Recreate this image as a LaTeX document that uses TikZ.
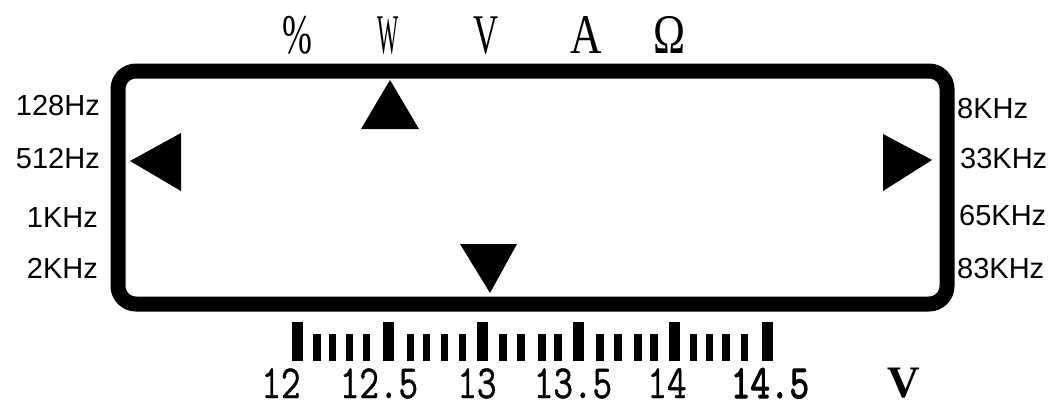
\documentclass[tikz,border=0pt]{standalone}
\usepackage{fontspec}
\setmainfont{Liberation Serif}
\setsansfont{Liberation Sans}
\newfontfamily\numreg[FakeBold=1]{Latin Modern Mono}
\newfontfamily\numbold[FakeBold=2.5]{Latin Modern Mono}
\newcommand{\tallnum}[1]{\raisebox{0pt}[\height][0pt]{\scalebox{1}[1.25]{#1}}}
\tikzset{
  frame/.style={draw=black, line width=15pt, rounded corners=18pt},
  freq/.style={font=\sffamily\fontsize{29}{29}\selectfont, inner sep=0pt},
  unit/.style={font=\rmfamily\fontsize{56}{56}\selectfont, inner sep=0pt, anchor=base},
  num/.style={font=\numreg\fontsize{38}{38}\selectfont, inner sep=0pt, anchor=base},
  numb/.style={font=\numbold\fontsize{38}{38}\selectfont, inner sep=0pt, anchor=base},
  marker/.style={fill=black},
  bigbar/.style={fill=black},
  smallbar/.style={fill=black}
}
\begin{document}
\begin{tikzpicture}[x=1pt,y=-1pt]
\useasboundingbox (0,0) rectangle (1057,407);
% display frame
\draw[frame] (118,71) rectangle (947,304);
% top unit labels
\node[unit] (pct) at (297,53) {\scalebox{0.64}[1]{\%}};
\node[unit] (uw) at (388,53) {\scalebox{0.40}[1]{W}};
\node[unit] (uv) at (486,53) {\scalebox{0.62}[1]{V}};
\node[unit] (ua) at (586,53) {\scalebox{0.78}[1]{A}};
\node[unit] (uo) at (670,53) {\scalebox{0.77}[1]{Ω}};
% triangles
\fill[marker] (361,129) -- (419,129) -- (390,80) -- cycle;
\fill[marker] (460,244) -- (517,244) -- (490,293) -- cycle;
\fill[marker] (181,133) -- (181,191) -- (130,161) -- cycle;
\fill[marker] (883,134) -- (883,191) -- (932,160) -- cycle;
% left frequency labels
\node[freq, anchor=base east] (f1) at (100,115) {128Hz};
\node[freq, anchor=base east] (f2) at (100,168) {512Hz};
\node[freq, anchor=base east] (f3) at (98,227) {1KHz};
\node[freq, anchor=base east] (f4) at (98,278) {2KHz};
% right frequency labels
\node[freq, anchor=base west] (g1) at (957,118) {8KHz};
\node[freq, anchor=base west] (g2) at (960,168) {33KHz};
\node[freq, anchor=base west] (g3) at (959,225) {65KHz};
\node[freq, anchor=base west] (g4) at (957,278) {83KHz};
% scale bars
\foreach \c in {297,388.5,482,578,674,767}
  \fill[bigbar] (\c-5.5,322) rectangle (\c+5.5,361);
\foreach \c in {317,332.5,349.5,366.5,410.5,426.5,444.5,462.5,503,521,542,558,600,618,638,654,693.5,709.5,726,744.5}
  \fill[smallbar] (\c-3.8,334) rectangle (\c+3.8,361);
% scale numbers
\node[num] (n1) at (281,398) {\tallnum{12}};
\node[num] (n2) at (379,398) {\tallnum{12.5}};
\node[num] (n3) at (477,398) {\tallnum{13}};
\node[num] (n4) at (573,398) {\tallnum{13.5}};
\node[num] (n5) at (667,398) {\tallnum{14}};
\node[numb] (n6) at (770,398) {\tallnum{14.5}};
\node[font=\rmfamily\bfseries\fontsize{45}{45}\selectfont, inner sep=0pt, anchor=base] (vv) at (904,397) {V};
\end{tikzpicture}
\end{document}
